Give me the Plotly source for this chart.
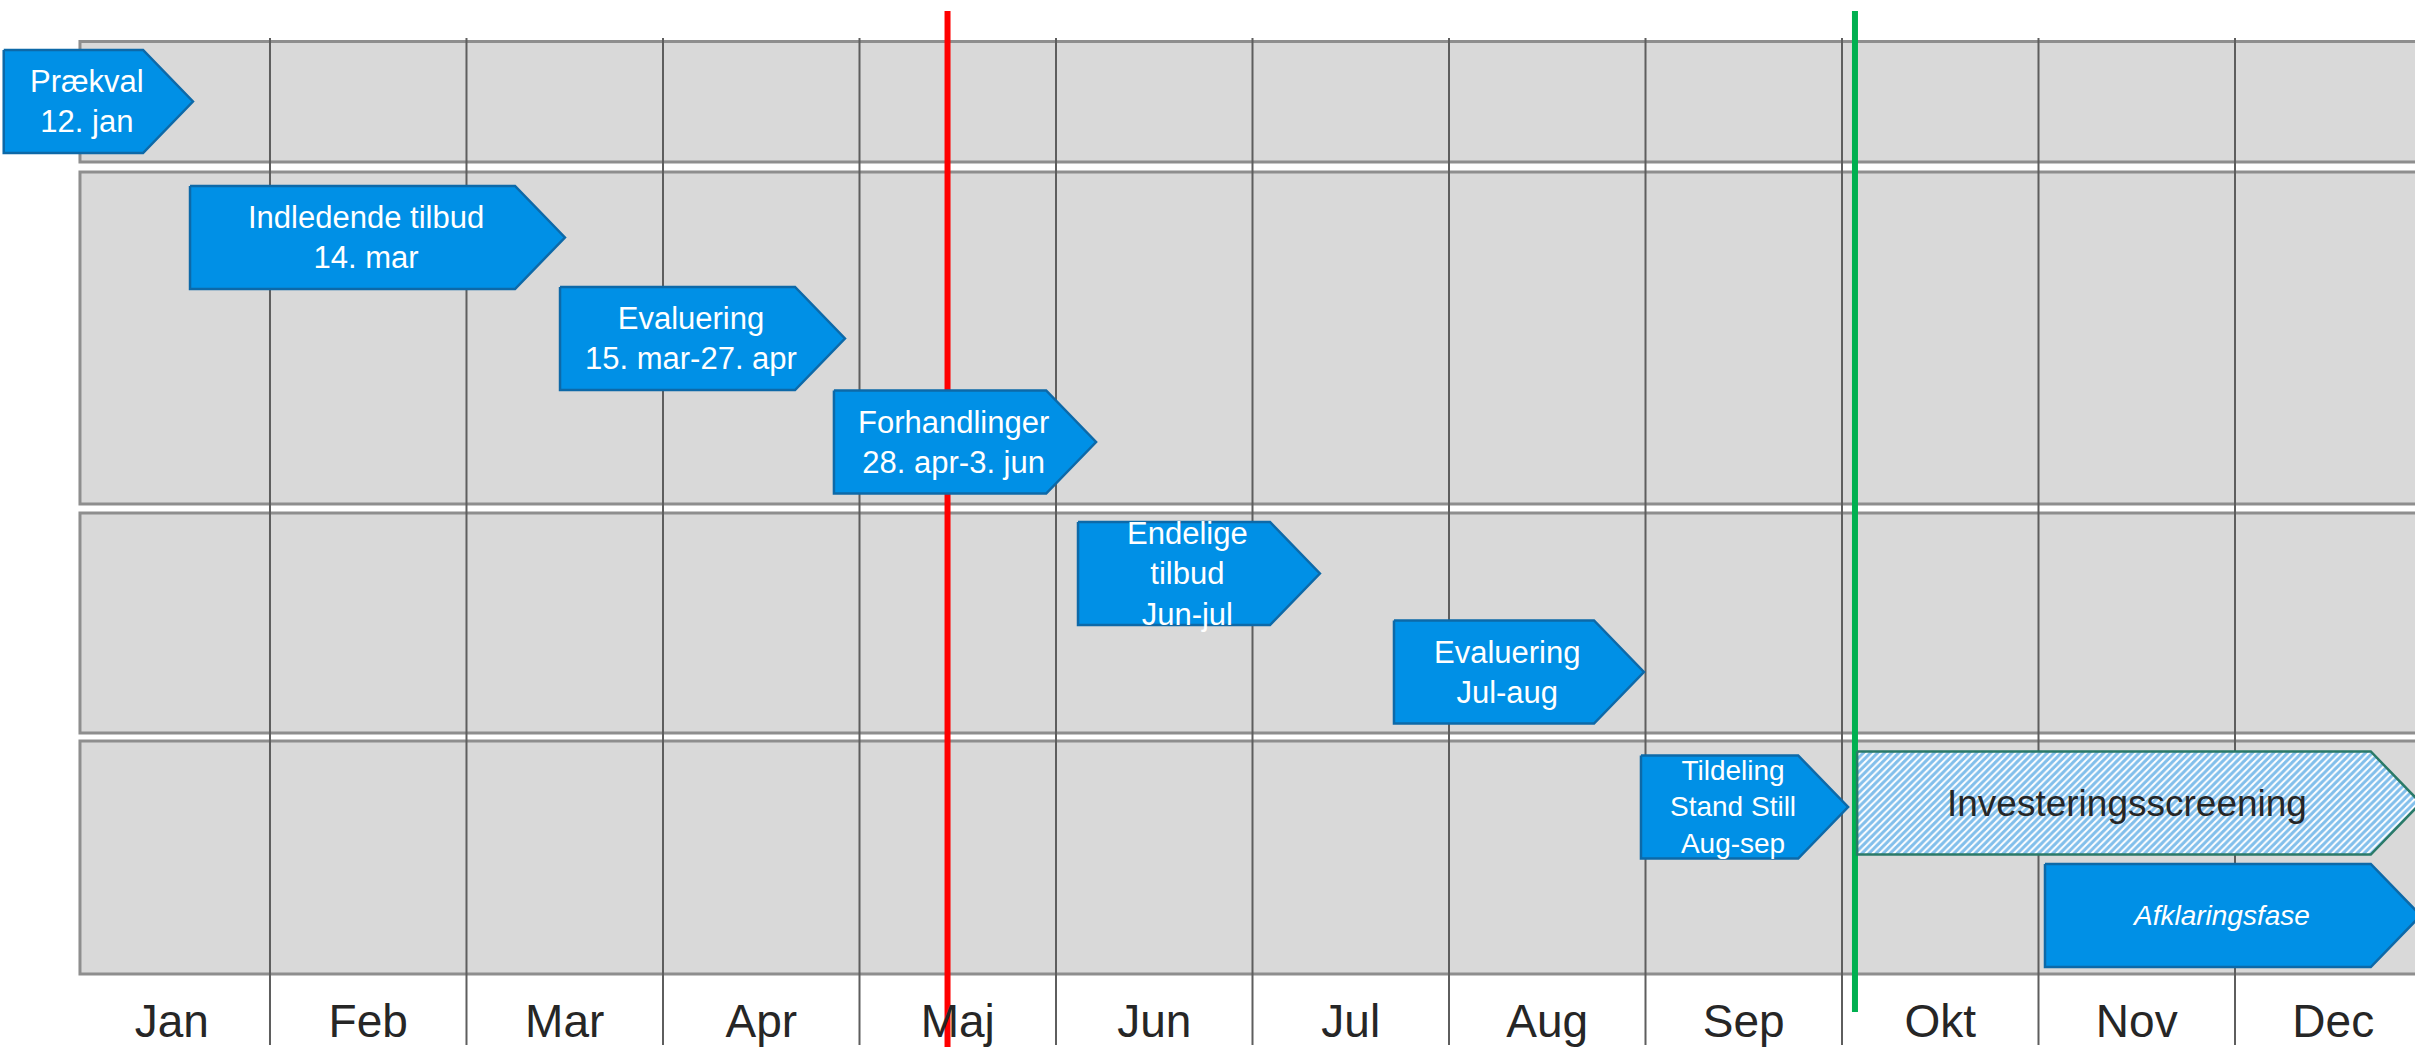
import plotly.graph_objects as go

# ---------------- data ----------------
months = ["Jan", "Feb", "Mar", "Apr", "Maj", "Jun", "Jul", "Aug", "Sep", "Okt", "Nov", "Dec"]

# phases (x in months from 1 Jan; end = arrow tip)
task_labels = [
    "Prækval<br>12. jan",
    "Indledende tilbud<br>14. mar",
    "Evaluering<br>15. mar-27. apr",
    "Forhandlinger<br>28. apr-3. jun",
    "Endelige<br>tilbud<br>Jun-jul",
    "Evaluering<br>Jul-aug",
    "Tildeling<br>Stand Still<br>Aug-sep",
    "Investeringsscreening",
    "<i>Afklaringsfase</i>",
]
task_start = [-0.355, 0.593, 2.476, 3.870, 5.112, 6.720, 7.977, 9.077, 10.033]
task_end = [0.608, 2.501, 3.926, 5.204, 6.343, 7.992, 9.031, 11.945, 11.945]
task_row = [101.5, 237.5, 338.5, 442.0, 573.5, 672.0, 807.0, 803.0, 915.5]
task_hatched = [False, False, False, False, False, False, False, True, False]

# swim lanes
lane_top = [41.5, 172.0, 513.0, 741.0]
lane_bottom = [162.0, 504.0, 733.0, 974.0]
lane_start = 0.033

# milestones
milestone_x = [4.448, 9.066]
milestone_color = ["#ff0000", "#00b050"]
milestone_y0 = [11, 11]
milestone_y1 = [1047, 1012]

# ---------------- style ----------------
FONT = "Liberation Sans, Arial, sans-serif"
BLUE = "#0090e6"
BLUE_EDGE = "#0d69a8"
HEAD = 0.254
HALF_H = 51.5

fig = go.Figure()
shapes = []

# lanes
for t, b in zip(lane_top, lane_bottom):
    shapes.append(dict(type="rect", xref="x", yref="y", x0=lane_start, x1=12.5, y0=t, y1=b,
                       fillcolor="#d9d9d9", line=dict(color="#8e8e8e", width=3), layer="below"))
# month separators
for m in range(1, 12):
    shapes.append(dict(type="line", xref="x", yref="y", x0=m, x1=m, y0=38, y1=1045,
                       line=dict(color="#5e5e5e", width=2), layer="below"))
# milestones
for mx, mc, y0, y1 in zip(milestone_x, milestone_color, milestone_y0, milestone_y1):
    shapes.append(dict(type="line", xref="x", yref="y", x0=mx, x1=mx, y0=y0, y1=y1,
                       line=dict(color=mc, width=6), layer="below"))

annotations = []
for lab, s, e, y, h in zip(task_labels, task_start, task_end, task_row, task_hatched):
    xs = [s, e - HEAD, e, e - HEAD, s, s]
    ys = [y - HALF_H, y - HALF_H, y, y + HALF_H, y + HALF_H, y - HALF_H]
    if h:
        fig.add_trace(go.Scatter(
            x=xs, y=ys, mode="lines", fill="toself", fillcolor="white",
            fillpattern=dict(shape="/", fgcolor="#0580d8", bgcolor="white", size=5, solidity=0.6),
            line=dict(color="#2a7a68", width=2.5), hoverinfo="skip", showlegend=False))
        color, size = "#262626", 37
    else:
        fig.add_trace(go.Scatter(
            x=xs, y=ys, mode="lines", fill="toself", fillcolor=BLUE,
            line=dict(color=BLUE_EDGE, width=2.5), hoverinfo="skip", showlegend=False))
        color = "white"
        size = 28 if (lab.startswith("Tildeling") or lab.startswith("<i>")) else 31
    annotations.append(dict(x=(s + e) / 2 - 0.06, y=y, xref="x", yref="y", text=lab,
                            showarrow=False, font=dict(family=FONT, size=size, color=color),
                            xanchor="center", yanchor="middle", align="center"))

# month labels
fig.add_trace(go.Scatter(
    x=[i + 0.5 for i in range(len(months))], y=[1025] * len(months), mode="text",
    text=months, textposition="middle center",
    textfont=dict(family=FONT, size=46, color="#262626"), hoverinfo="skip", showlegend=False))

fig.update_layout(
    width=2415, height=1050, margin=dict(l=0, r=0, t=0, b=0),
    paper_bgcolor="white", plot_bgcolor="white",
    xaxis=dict(range=[-0.374, 11.916], visible=False, fixedrange=True),
    yaxis=dict(range=[1050, 0], visible=False, fixedrange=True),
    shapes=shapes, annotations=annotations, showlegend=False,
)
fig.write_html("out.html", config={"displayModeBar": False},
               post_script="document.body.style.margin='0';document.body.style.overflow='hidden';")
